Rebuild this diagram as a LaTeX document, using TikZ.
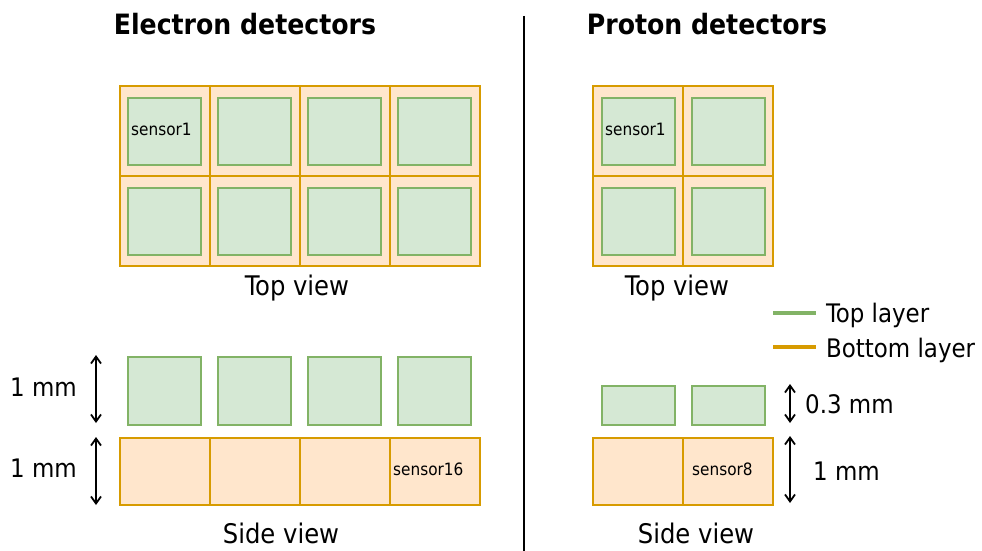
\documentclass[tikz,border=0pt]{standalone}
\usepackage{fontspec}
\setmainfont{DejaVu Sans Condensed}
\usetikzlibrary{arrows.meta}
\definecolor{topfill}{HTML}{D5E8D4}
\definecolor{topline}{HTML}{82B366}
\definecolor{botfill}{HTML}{FFE6CC}
\definecolor{botline}{HTML}{D79B00}
\tikzset{
  cell/.style={draw=botline, fill=botfill, line width=2.4pt, inner sep=0pt,
    minimum width=90pt, minimum height=#1, anchor=north west},
  cell/.default=90pt,
  sq/.style={draw=topline, fill=topfill, line width=2.4pt, inner sep=0pt,
    minimum width=73pt, minimum height=#1, anchor=north west},
  sq/.default=67pt,
  title/.style={font=\bfseries\fontsize{28}{32}\selectfont, anchor=base, inner sep=0pt},
  lbl/.style={font=\fontsize{25.5}{29}\selectfont, inner sep=0pt},
  view/.style={font=\fontsize{27}{31}\selectfont, inner sep=0pt, anchor=base},
  tag/.style={font=\fontsize{17}{20}\selectfont, anchor=base west, inner sep=0pt},
  dim/.style={line width=1.8pt, {Straight Barb[length=7pt,width=10pt]}-{Straight Barb[length=7pt,width=10pt]}},
  legline/.style={line width=4pt},
}
\begin{document}
\begin{tikzpicture}[x=1pt,y=-1pt]
\useasboundingbox (0,0) rectangle (982,551);

% titles and separator
\node[title] (etitle) at (245,35) {Electron detectors};
\node[title] (ptitle) at (707,35) {Proton detectors};
\coordinate (sepTop) at (524,16);
\coordinate (sepBot) at (524,551);
\draw[line width=2pt] (sepTop) -- (sepBot);

% electron detectors, top view
\foreach \i in {0,...,3}{
  \foreach \j in {0,1}{
    \node[cell] (ec-\i-\j) at ({119+90*\i},{85+90*\j}) {};
    \node[sq] (es-\i-\j) at ({127+90*\i},{97+90*\j}) {};
  }
}
\node[tag] (es1) at (131,135) {sensor1};
\node[view] (etop) at (297,295) {Top view};

% electron detectors, side view
\foreach \i in {0,...,3}{
  \node[sq=68pt] (esg-\i) at ({127+90*\i},356) {};
  \node[cell=67pt] (eso-\i) at ({119+90*\i},437) {};
}
\node[tag] (es16) at (393,475) {sensor16};
\node[view] (eside) at (281,543) {Side view};

\coordinate (ea1) at (96,355);
\coordinate (ea2) at (96,423);
\coordinate (ea3) at (96,437);
\coordinate (ea4) at (96,505);
\draw[dim] (ea1) -- (ea2);
\draw[dim] (ea3) -- (ea4);
\node[lbl, anchor=base west] (emm1) at (10,396) {1 mm};
\node[lbl, anchor=base west] (emm2) at (10,477) {1 mm};

% proton detectors, top view
\foreach \i in {0,1}{
  \foreach \j in {0,1}{
    \node[cell] (pc-\i-\j) at ({592+90*\i},{85+90*\j}) {};
    \node[sq] (ps-\i-\j) at ({601+90*\i},{97+90*\j}) {};
  }
}
\node[tag] (ps1) at (605,135) {sensor1};
\node[view] (ptop) at (677,295) {Top view};

% proton detectors, side view
\foreach \i in {0,1}{
  \node[sq=39pt] (psg-\i) at ({601+90*\i},385) {};
  \node[cell=67pt] (pso-\i) at ({592+90*\i},437) {};
}
\node[tag] (ps8) at (692,475) {sensor8};
\node[view] (pside) at (696,543) {Side view};

\coordinate (pa1) at (790,384);
\coordinate (pa2) at (790,423);
\coordinate (pa3) at (790,436);
\coordinate (pa4) at (790,503);
\draw[dim] (pa1) -- (pa2);
\draw[dim] (pa3) -- (pa4);
\node[lbl, anchor=base west] (pmm03) at (805,413) {0.3 mm};
\node[lbl, anchor=base west] (pmm1) at (813,480) {1 mm};

% legend
\coordinate (lg1) at (773,313);
\coordinate (lg2) at (816,313);
\coordinate (lo1) at (773,347);
\coordinate (lo2) at (816,347);
\draw[legline, topline] (lg1) -- (lg2);
\draw[legline, botline] (lo1) -- (lo2);
\node[lbl, anchor=base west] (ltop) at (826,322) {Top layer};
\node[lbl, anchor=base west] (lbot) at (826,357) {Bottom layer};
\end{tikzpicture}
\end{document}
